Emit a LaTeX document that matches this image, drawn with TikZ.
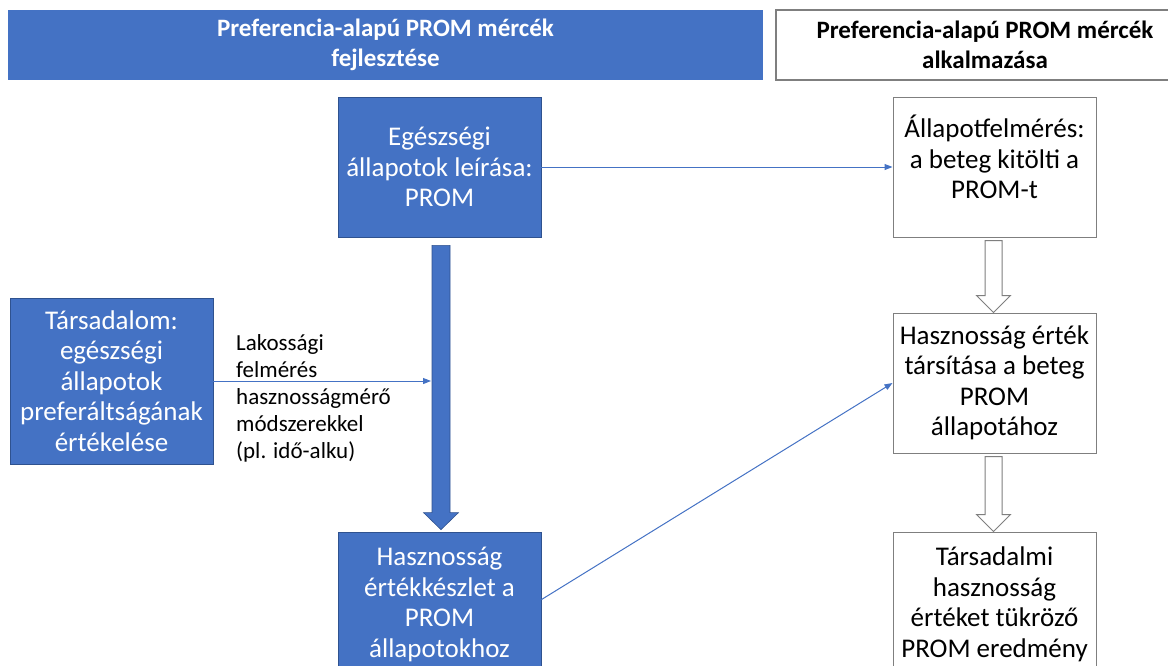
\documentclass[tikz,border=0pt]{standalone}
\usepackage{fontspec}
\setmainfont{Carlito}
\usetikzlibrary{arrows.meta,calc}
\definecolor{ofblue}{HTML}{4472C4}
\definecolor{ofbluedark}{HTML}{2F528F}
\definecolor{ofgray}{HTML}{7F7F7F}
\tikzset{
  bluebox/.style={draw=ofbluedark, line width=0.8pt, fill=ofblue, text=white, align=center,
    minimum width=203pt, inner sep=0pt, font=\fontsize{27}{30.5}\selectfont},
  whitebox/.style={draw=ofgray, line width=1pt, fill=white, text=black, align=center,
    minimum width=203pt, inner sep=0pt, font=\fontsize{27}{30.5}\selectfont},
  hdrblue/.style={fill=ofblue, draw=none, text=white, align=center, inner sep=0pt,
    font=\fontsize{25}{30}\selectfont\bfseries},
  hdrwhite/.style={fill=white, draw=ofgray, line width=1.5pt, text=black, align=center, inner sep=0pt,
    font=\fontsize{25}{30}\selectfont\bfseries},
  thinarrow/.style={draw=ofblue, line width=1pt, -{Triangle[length=8pt,width=6pt]}},
  hollowarrow/.style={draw=ofgray, line width=1pt, fill=white, line join=miter},
  solidarrow/.style={draw=ofbluedark, line width=0.6pt, fill=ofblue, line join=miter},
  lbl/.style={align=left, inner sep=0pt, anchor=west, font=\fontsize{23}{27}\selectfont}
}
\begin{document}
\begin{tikzpicture}[x=1pt,y=-1pt]
\useasboundingbox (0,0) rectangle (1168,665);
% headers
\node[hdrblue, minimum width=755pt, minimum height=70pt] (hdrL) at (385.5,45) {Preferencia-alapú PROM mércék\\fejlesztése};
\node[hdrwhite, minimum width=418pt, minimum height=70pt] (hdrR) at (985,45) {Preferencia-alapú PROM mércék\\alkalmazása};
% left column
\node[bluebox, minimum height=140pt] (egesz) at (439.5,167) {Egészségi\\állapotok leírása:\\PROM};
\node[bluebox, minimum height=166pt] (tars) at (111.5,381) {Társadalom:\\egészségi\\állapotok\\preferáltságának\\értékelése};
\node[bluebox, minimum height=145pt] (haszL) at (439.5,604.5) {Hasznosság\\értékkészlet a\\PROM\\állapotokhoz};
% right column
\node[whitebox, minimum height=140pt] (allapot) at (994.5,167) {};
\node[align=center, inner sep=0pt, font=\fontsize{27}{30.5}\selectfont] (allapotText) at ([yshift=10pt]allapot.center) {Állapotfelmérés:\\a beteg kitölti a\\PROM-t};
\node[whitebox, minimum height=140pt] (haszR) at (994.5,383) {Hasznosság érték\\társítása a beteg\\PROM\\állapotához};
\node[whitebox, minimum height=145pt] (tarsR) at (994.5,604.5) {Társadalmi\\hasznosság\\értéket tükröző\\PROM eredmény};
% thick solid arrow egesz -> haszL
\coordinate (sTop) at ($(egesz.south)+(1.5,8)$);
\coordinate (sTip) at ($(haszL.north)+(1.5,-2)$);
\draw[solidarrow] ($(sTop)+(-9,0)$) -- ($(sTop)+(9,0)$) -- ($(sTip)+(9,-17)$) -- ($(sTip)+(17.5,-17)$)
  -- (sTip) -- ($(sTip)+(-17.5,-17)$) -- ($(sTip)+(-9,-17)$) -- cycle;
% hollow arrows
\coordinate (h1Top) at ($(allapot.south)+(-1,3)$);
\coordinate (h1Tip) at ($(haszR.north)+(-1,0)$);
\draw[hollowarrow] ($(h1Top)+(-8.5,0)$) -- ($(h1Top)+(8.5,0)$) -- ($(h1Tip)+(8.5,-17)$) -- ($(h1Tip)+(17,-17)$)
  -- (h1Tip) -- ($(h1Tip)+(-17,-17)$) -- ($(h1Tip)+(-8.5,-17)$) -- cycle;
\coordinate (h2Top) at ($(haszR.south)+(-1,3)$);
\coordinate (h2Tip) at ($(tarsR.north)+(-1,0)$);
\draw[hollowarrow] ($(h2Top)+(-8.5,0)$) -- ($(h2Top)+(8.5,0)$) -- ($(h2Tip)+(8.5,-17)$) -- ($(h2Tip)+(17,-17)$)
  -- (h2Tip) -- ($(h2Tip)+(-17,-17)$) -- ($(h2Tip)+(-8.5,-17)$) -- cycle;
% thin arrows
\coordinate (shaftL) at ($(sTop)+(-10,0)$);
\draw[thinarrow] (tars.east) -- (tars.east -| shaftL);
\draw[thinarrow] (egesz.east) -- (allapot.west);
\draw[thinarrow] ($(haszL.north east)+(0,68)$) -- (haszR.west);
% label
\node[lbl] (lab) at (236,398) {Lakossági\\felmérés\\hasznosságmérő\\módszerekkel\\(pl. idő-alku)};
\end{tikzpicture}
\end{document}
